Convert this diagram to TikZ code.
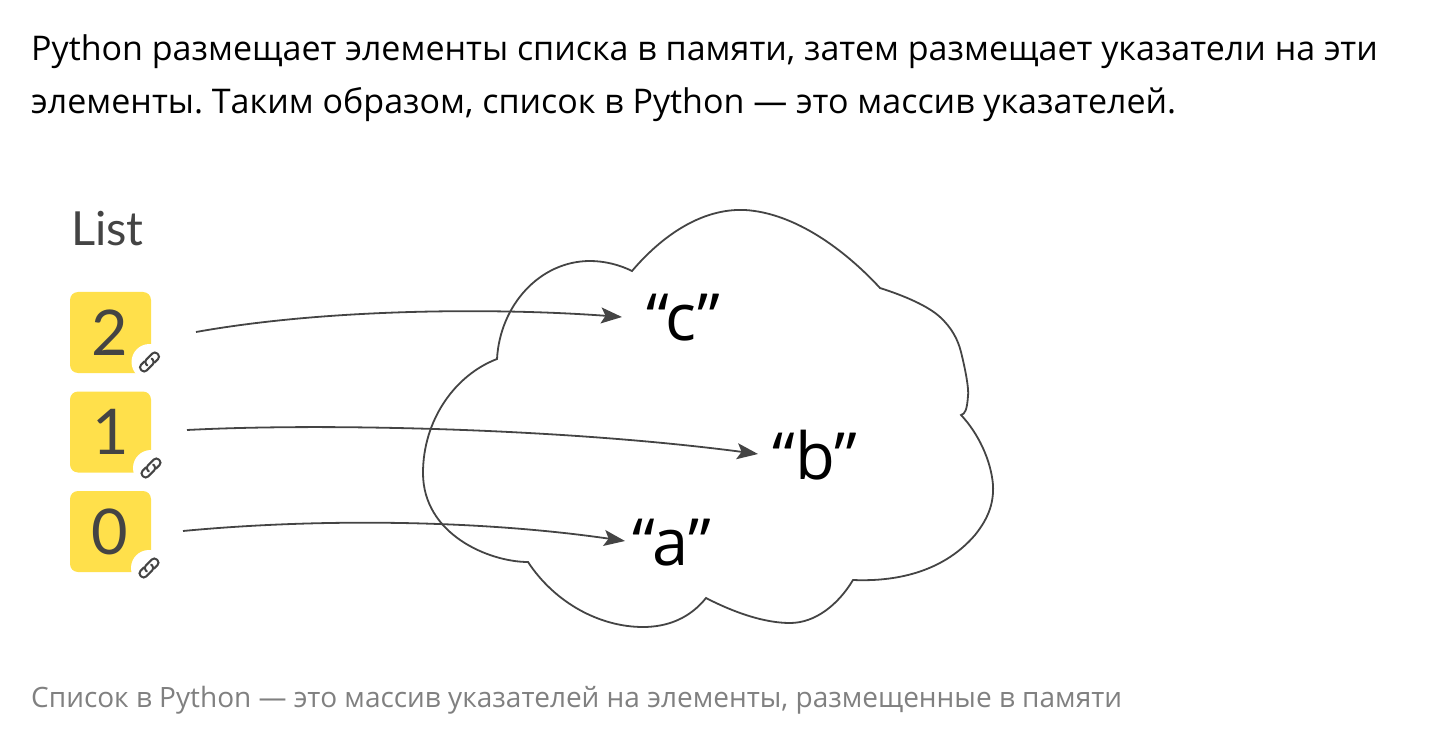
\documentclass[tikz,border=0pt]{standalone}
\usepackage{fontspec}
\setmainfont{Open Sans}
\newfontfamily\latofont{Lato}
\usetikzlibrary{arrows.meta}
\definecolor{ink}{HTML}{444444}
\definecolor{boxy}{HTML}{FFE04B}
\definecolor{capt}{HTML}{808080}
\tikzset{
  x=1pt,y=-1pt,
  bodytext/.style={anchor=base west,inner sep=0pt,text=black,font=\fontsize{34}{34}\selectfont\frenchspacing},
  captiontext/.style={anchor=base west,inner sep=0pt,text=capt,font=\fontsize{28}{28}\selectfont},
  listtitle/.style={anchor=base west,inner sep=0pt,text=ink,font=\latofont\fontsize{47}{47}\selectfont},
  cellbox/.style={fill=boxy,rounded corners=8pt,minimum width=81pt,minimum height=81pt,inner sep=0pt},
  digit/.style={anchor=base,inner sep=0pt,text=ink,font=\latofont\fontsize{63}{63}\selectfont},
  strnode/.style={anchor=base,inner sep=0pt,text=black,font=\fontsize{65}{65}\selectfont},
  cloudline/.style={draw=ink,line width=1.8pt,line join=miter},
  ptr/.style={draw=ink,line width=1.8pt,-{Stealth[length=21pt,width=16pt,inset=4.5pt]}},
  linkbadge/.style={fill=white,circle,minimum size=36pt,inner sep=0pt},
  linkloop/.style={draw=ink,line width=2pt,rounded corners=3.5pt,line cap=round},
  pics/linkicon/.style={code={
    \begin{scope}[rotate=45]
      \draw[linkloop] (-4,1) -- (-4,-4) -- (11.5,-4) -- (11.5,4) -- (3,4);
      \draw[linkloop] (4,-1) -- (4,4) -- (-11.5,4) -- (-11.5,-4) -- (-3,-4);
    \end{scope}
  }}
}
\begin{document}
\begin{tikzpicture}
\useasboundingbox (0,0) rectangle (1448,743);
\node[bodytext] (line1) at (31,61) {Python размещает элементы списка в памяти, затем размещает указатели на эти};
\node[bodytext] (line2) at (31,114) {элементы. Таким образом, список в Python — это массив указателей.};
\node[listtitle] (listlabel) at (71,246) {List};

\node[cellbox] (cell2) at (110.5,332.5) {};
\node[cellbox] (cell1) at (110.5,432) {};
\node[cellbox] (cell0) at (110.5,531.5) {};
\node[digit] (digit2) at (110,355) {2};
\node[digit] (digit1) at (110.5,454) {1};
\node[digit] (digit0) at (110,554) {0};
\node[linkbadge] (badge2) at (149.5,362) {};
\node[linkbadge] (badge1) at (151,468) {};
\node[linkbadge] (badge0) at (149,568) {};
\pic at (badge2) {linkicon};
\pic at (badge1) {linkicon};
\pic at (badge0) {linkicon};

\path[cloudline] (632,271)
  .. controls (660,238) and (700,208) .. (745,210)
  .. controls (795,213) and (845,250) .. (880,288)
  .. controls (905,296) and (928,306) .. (940,317)
  .. controls (952,328) and (958,340) .. (961,352)
  .. controls (966,372) and (969,390) .. (968,396)
  .. controls (967,410) and (965,414) .. (961,415)
  .. controls (978,433) and (991,460) .. (993,485)
  .. controls (994,505) and (987,520) .. (975,535)
  .. controls (945,570) and (900,582) .. (853,580)
  .. controls (838,605) and (815,623) .. (790,623)
  .. controls (765,623) and (735,613) .. (706,598)
  .. controls (690,618) and (668,627) .. (643,627)
  .. controls (600,627) and (555,603) .. (528,562)
  .. controls (490,562) and (423,535) .. (423,473)
  .. controls (423,420) and (455,375) .. (497,359)
  .. controls (500,305) and (540,261) .. (590,261)
  .. controls (605,261) and (620,265) .. (632,271) -- cycle;

\node[strnode] (strc) at (683.5,340) {“c”};
\node[strnode] (strb) at (815,479) {“b”};
\node[strnode] (stra) at (672,565) {“a”};

\coordinate (from2) at (196,332);
\coordinate (from1) at (187,430);
\coordinate (from0) at (183,531);
\coordinate (to2) at (622,317);
\coordinate (to1) at (758,454);
\coordinate (to0) at (625,541);
\draw[ptr] (from2) .. controls (330,308) and (500,308) .. (to2);
\draw[ptr] (from1) .. controls (320,423) and (560,428) .. (to1);
\draw[ptr] (from0) .. controls (320,518) and (480,520) .. (to0);

\node[captiontext] (caption) at (31,707) {Список в Python — это массив указателей на элементы, размещенные в памяти};
\end{tikzpicture}
\end{document}
